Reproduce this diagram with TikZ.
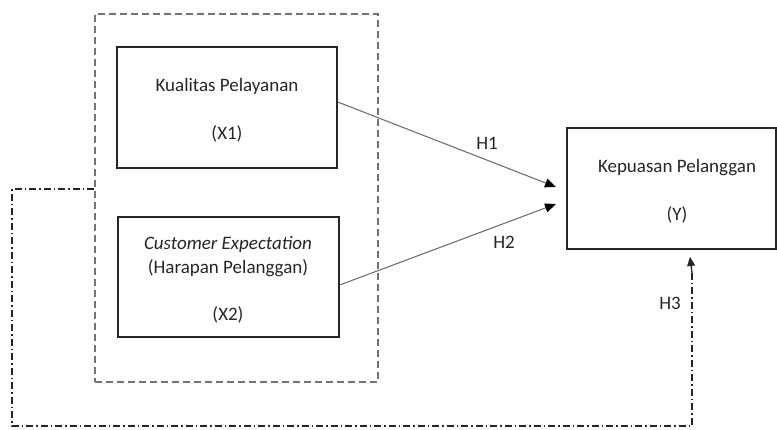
\documentclass[tikz,border=0pt]{standalone}
\usepackage{fontspec}
\setmainfont{Carlito}
\usetikzlibrary{arrows.meta}
\begin{document}
\begin{tikzpicture}[x=1pt,y=-1pt,
  box/.style={draw=black!85,line width=1.4pt,inner sep=0pt},
  txt/.style={font=\fontsize{19}{22}\selectfont,text=black!85,inner sep=0pt,anchor=base},
  grp/.style={draw=black!55,line width=1.3pt,dash pattern=on 7pt off 4pt},
  hyp/.style={draw=black!60,line width=1pt,-{Triangle[length=11pt,width=9pt,color=black]}},
  dd/.style={draw=black!85,line width=1.3pt,dash pattern=on 7pt off 3pt on 1.5pt off 3pt},
  lab/.style={font=\fontsize{19}{22}\selectfont,text=black!85,inner sep=0pt}]
\useasboundingbox (0,0) rectangle (777,430);
% boxes
\node[grp,minimum width=283pt,minimum height=368pt] (grp) at (236.5,198) {};
\node[box,minimum width=220pt,minimum height=121pt] (x1) at (227,107.5) {};
\node[box,minimum width=221pt,minimum height=120pt] (x2) at (228.5,277) {};
\node[box,minimum width=209pt,minimum height=121pt] (y) at (671.5,188.5) {};
% texts
\node[txt] at (227,92) {Kualitas Pelayanan};
\node[txt] at (227,140) {(X1)};
\node[txt] at (228,250) {\itshape Customer Expectation};
\node[txt] at (228,274) {(Harapan Pelanggan)};
\node[txt] at (228,321) {(X2)};
\node[txt] at (677,173) {Kepuasan Pelanggan};
\node[txt] at (677,221) {(Y)};
% hypothesis arrows
\coordinate (t1) at (556,187);
\coordinate (t2) at (556,204);
\draw[hyp] (x1.east |- 0,102) -- (t1);
\draw[hyp] (x2.east |- 0,285) -- (t2);
\node[lab] (h1) at (487,143) {H1};
\node[lab] (h2) at (504,242) {H2};
\node[lab] (h3) at (670,303) {H3};
% H3 dash-dot connector
\coordinate (a) at (grp.west |- 0,189);
\coordinate (b) at (12,189);
\coordinate (c) at (12,426);
\coordinate (d) at (692,426);
\coordinate (e) at (690,257);
\draw[dd] (a) -- (b) -- (c) -- (d) -- (692,272);
\draw[draw=black!85,line width=1.3pt,-{Triangle[length=9pt,width=8pt]}] (692,273) -- (e);
\end{tikzpicture}
\end{document}
